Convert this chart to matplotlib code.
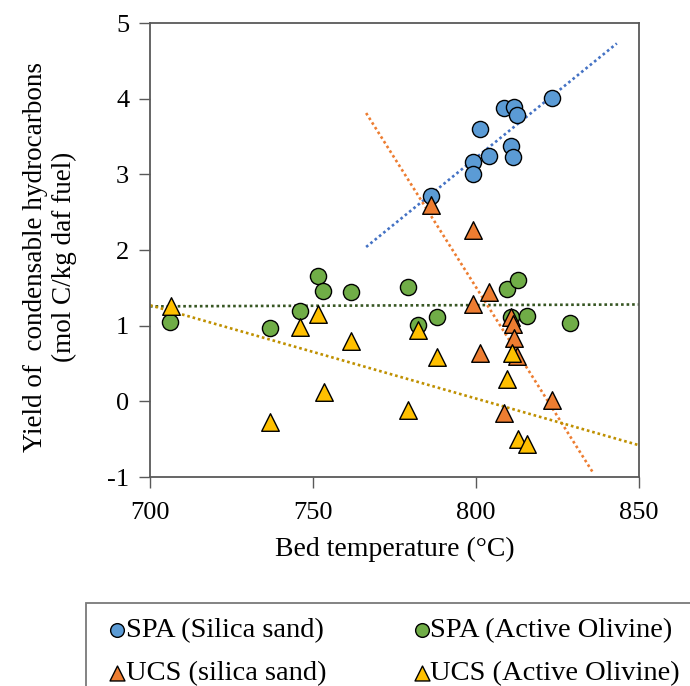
import matplotlib.pyplot as plt

plt.rcParams['font.family'] = ['Liberation Serif', 'DejaVu Serif']
plt.rcParams['axes.unicode_minus'] = False

# SPA (Silica sand)
spa_ss_t = [786.1, 823.4, 808.6, 811.7, 812.7, 801.3, 810.6, 811.2, 804.0, 799.0, 799.0]
spa_ss_y = [2.72, 4.01, 3.88, 3.89, 3.79, 3.60, 3.38, 3.23, 3.24, 3.16, 3.01]

# SPA (Active Olivine)
spa_ao_t = [706.1, 736.9, 746.0, 751.6, 753.2, 761.8, 779.1, 782.2, 788.1, 809.4, 813.0,
            810.7, 815.5, 828.9]
spa_ao_y = [1.05, 0.97, 1.20, 1.66, 1.46, 1.44, 1.51, 1.01, 1.11, 1.48, 1.60,
            1.11, 1.13, 1.03]

# UCS (silica sand)
ucs_ss_t = [786.1, 799.2, 804.0, 799.0, 810.6, 811.2, 811.7, 801.2, 812.7, 808.6, 823.4]
ucs_ss_y = [2.60, 2.27, 1.44, 1.28, 1.12, 1.02, 0.84, 0.64, 0.60, -0.16, 0.02]

# UCS (Active Olivine)
ucs_ao_t = [706.3, 746.0, 751.6, 761.8, 753.4, 736.9, 779.1, 782.2, 788.1, 809.4, 811.1,
            813.0, 815.5]
ucs_ao_y = [1.26, 0.98, 1.15, 0.80, 0.12, -0.27, -0.11, 0.94, 0.59, 0.30, 0.64,
            -0.50, -0.57]

# linear trendlines as drawn in the figure (end points)
trend_spa_ss = ([766.3, 843.2], [2.04, 4.73])
trend_spa_ao = ([700, 850], [1.255, 1.28])
trend_ucs_ss = ([766.3, 836.0], [3.81, -0.95])
trend_ucs_ao = ([700, 850], [1.27, -0.58])

series = [
    ("SPA (Silica sand)", spa_ss_t, spa_ss_y, trend_spa_ss, 'o', '#5B9BD5', '#4472C4'),
    ("SPA (Active Olivine)", spa_ao_t, spa_ao_y, trend_spa_ao, 'o', '#70AD47', '#375623'),
    ("UCS (silica sand)", ucs_ss_t, ucs_ss_y, trend_ucs_ss, '^', '#ED7D31', '#ED7D31'),
    ("UCS (Active Olivine)", ucs_ao_t, ucs_ao_y, trend_ucs_ao, '^', '#FFC000', '#BF9000'),
]

fig = plt.figure(figsize=(6.9, 6.86), dpi=100)
ax = fig.add_axes([150 / 690, 1 - 477 / 686, 489 / 690, 454 / 686])

for label, t, y, tr, m, fc, lc in series:
    ax.plot(tr[0], tr[1], linestyle=(0, (1, 1.1)), color=lc, lw=1.9, zorder=2)

handles = {}
for label, t, y, tr, m, fc, lc in series:
    size = 135 if m == 'o' else 160
    handles[label] = ax.scatter(t, y, marker=m, s=size, facecolor=fc,
                                edgecolor='black', linewidth=1.0, zorder=3,
                                label=label)

ax.set_xlim(700, 850)
ax.set_ylim(-1, 5)
ax.set_xticks([700, 750, 800, 850])
ax.set_yticks(range(-1, 6))
ax.tick_params(direction='out', length=8, width=1, color='#595959',
               labelsize=19)
ax.tick_params(axis='x', pad=10)
ax.tick_params(axis='y', pad=7)
for sp in ax.spines.values():
    sp.set_color('#595959')
    sp.set_linewidth(1.3)

ax.set_xlabel("Bed temperature (\u00b0C)", fontsize=20)
ax.xaxis.set_label_coords(0.5, -0.132)
ax.set_ylabel("Yield of  condensable hydrocarbons\n(mol C/kg daf fuel)",
              fontsize=19.5, linespacing=1.2)
ax.yaxis.set_label_coords(-0.15, 0.485)

# legend fills column-wise, so order entries to get SPA on the first row
order = ["SPA (Silica sand)", "UCS (silica sand)",
         "SPA (Active Olivine)", "UCS (Active Olivine)"]
leg = fig.legend([handles[k] for k in order], order, ncol=2, loc='upper left',
                 bbox_to_anchor=(86 / 690, 1 - 603 / 686), borderaxespad=0,
                 fontsize=20.5, frameon=True, fancybox=False,
                 markerscale=0.85, handletextpad=-0.3, handlelength=1.2,
                 columnspacing=2.75, borderpad=0.5, labelspacing=0.6)
leg.get_frame().set_edgecolor('#595959')
leg.get_frame().set_linewidth(1.3)

fig.savefig("out.png", dpi=100)
